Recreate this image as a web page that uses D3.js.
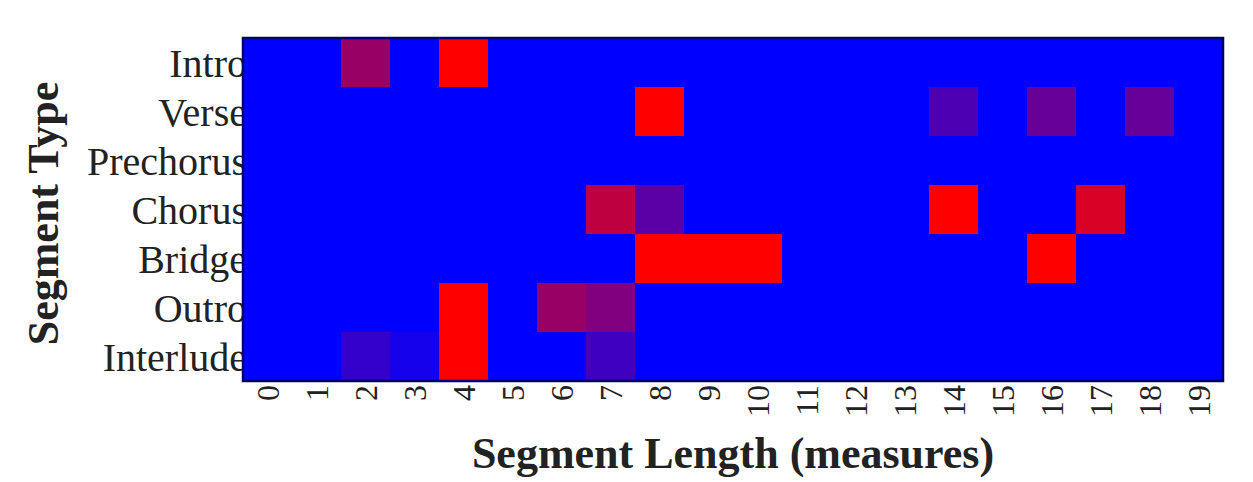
<!DOCTYPE html>
<html>
<head>
<meta charset="utf-8">
<script src="https://cdn.jsdelivr.net/npm/d3@7"></script>
<style>
  body { margin: 0; background: #fff; }
  text { font-family: "Liberation Serif", "DejaVu Serif", serif; fill: #222; }
</style>
</head>
<body>
<div id="chart"></div>
<script>
// rows of the heatmap, top to bottom
const segmentTypes = ["Intro", "Verse", "Prechorus", "Chorus", "Bridge", "Outro", "Interlude"];
// columns: segment length in measures
const segmentLengths = d3.range(0, 20);

// relative frequency per segment type (0 = blue, 1 = red)
const intro     = [0, 0, 0.6, 0, 1, 0, 0, 0, 0, 0, 0, 0, 0, 0, 0, 0, 0, 0, 0, 0];
const verse     = [0, 0, 0, 0, 0, 0, 0, 0, 1, 0, 0, 0, 0, 0, 0.3, 0, 0.4, 0, 0.4, 0];
const prechorus = [0, 0, 0, 0, 0, 0, 0, 0, 0, 0, 0, 0, 0, 0, 0, 0, 0, 0, 0, 0];
const chorus    = [0, 0, 0, 0, 0, 0, 0, 0.75, 0.35, 0, 0, 0, 0, 0, 1, 0, 0, 0.85, 0, 0];
const bridge    = [0, 0, 0, 0, 0, 0, 0, 0, 1, 1, 1, 0, 0, 0, 0, 0, 1, 0, 0, 0];
const outro     = [0, 0, 0, 0, 1, 0, 0.6, 0.5, 0, 0, 0, 0, 0, 0, 0, 0, 0, 0, 0, 0];
const interlude = [0, 0, 0.2, 0.08, 1, 0, 0, 0.25, 0, 0, 0, 0, 0, 0, 0, 0, 0, 0, 0, 0];

const rows = [intro, verse, prechorus, chorus, bridge, outro, interlude];

const width = 1253, height = 482;
const margin = { top: 38, right: 30, bottom: 101, left: 243 };

const svg = d3.select("#chart").append("svg")
    .attr("width", width)
    .attr("height", height);

const x = d3.scaleBand()
    .domain(segmentLengths)
    .range([margin.left, width - margin.right]);

const y = d3.scaleBand()
    .domain(segmentTypes)
    .range([margin.top, height - margin.bottom]);

const color = d3.scaleLinear()
    .domain([0, 1])
    .range(["#0000ff", "#ff0000"])
    .interpolate(d3.interpolateRgb);

// y tick labels go first so the heatmap overlaps their ends
svg.append("g")
  .selectAll("text")
  .data(segmentTypes)
  .enter().append("text")
    .attr("x", margin.left + 4)
    .attr("y", d => y(d) + y.bandwidth() / 2)
    .attr("dy", "0.35em")
    .attr("text-anchor", "end")
    .style("font-size", "40px")
    .text(d => d);

// Cells
const cells = [];
rows.forEach((vals, i) => {
    vals.forEach((v, j) => cells.push({ type: segmentTypes[i], len: segmentLengths[j], v }));
});

svg.append("g")
  .selectAll("rect")
  .data(cells)
  .enter().append("rect")
    .attr("x", d => x(d.len))
    .attr("y", d => y(d.type))
    .attr("width", x.bandwidth() + 0.5)
    .attr("height", y.bandwidth() + 0.5)
    .style("fill", d => color(d.v));

// frame
svg.append("rect")
    .attr("x", margin.left)
    .attr("y", margin.top)
    .attr("width", width - margin.left - margin.right)
    .attr("height", height - margin.top - margin.bottom)
    .style("fill", "none")
    .style("stroke", "#000070")
    .style("stroke-width", 2.5);

// x tick labels, rotated
svg.append("g")
  .selectAll("text")
  .data(segmentLengths)
  .enter().append("text")
    .attr("transform", d => `translate(${x(d) + x.bandwidth() / 2},${height - margin.bottom + 4}) rotate(-90)`)
    .attr("dy", "0.35em")
    .attr("text-anchor", "end")
    .style("font-size", "32px")
    .text(d => d);

// axis titles
svg.append("text")
    .attr("x", (margin.left + width - margin.right) / 2)
    .attr("y", 468)
    .attr("text-anchor", "middle")
    .style("font-size", "44px")
    .style("font-weight", "bold")
    .text("Segment Length (measures)");

svg.append("text")
    .attr("transform", `translate(58,${(margin.top + height - margin.bottom) / 2 + 4}) rotate(-90)`)
    .attr("text-anchor", "middle")
    .style("font-size", "44px")
    .style("font-weight", "bold")
    .text("Segment Type");
</script>
</body>
</html>
